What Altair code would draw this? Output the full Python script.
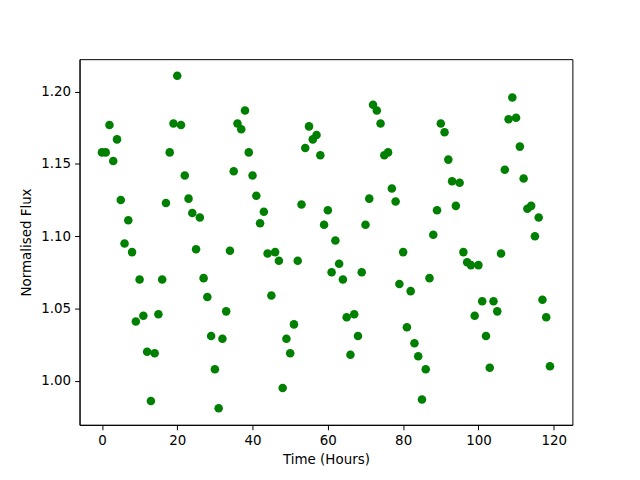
import altair as alt
import pandas as pd

hours = list(range(120))
flux = [
    1.158, 1.158, 1.177, 1.152, 1.167, 1.125, 1.095, 1.111, 1.089, 1.041,
    1.070, 1.045, 1.020, 0.986, 1.019, 1.046, 1.070, 1.123, 1.158, 1.178,
    1.211, 1.177, 1.142, 1.126, 1.116, 1.091, 1.113, 1.071, 1.058, 1.031,
    1.008, 0.981, 1.029, 1.048, 1.090, 1.145, 1.178, 1.174, 1.187, 1.158,
    1.142, 1.128, 1.109, 1.117, 1.088, 1.059, 1.089, 1.083, 0.995, 1.029,
    1.019, 1.039, 1.083, 1.122, 1.161, 1.176, 1.167, 1.170, 1.156, 1.108,
    1.118, 1.075, 1.097, 1.081, 1.070, 1.044, 1.018, 1.046, 1.031, 1.075,
    1.108, 1.126, 1.191, 1.187, 1.178, 1.156, 1.158, 1.133, 1.124, 1.067,
    1.089, 1.037, 1.062, 1.026, 1.017, 0.987, 1.008, 1.071, 1.101, 1.118,
    1.178, 1.172, 1.153, 1.138, 1.121, 1.137, 1.089, 1.082, 1.080, 1.045,
    1.080, 1.055, 1.031, 1.009, 1.055, 1.048, 1.088, 1.146, 1.181, 1.196,
    1.182, 1.162, 1.140, 1.119, 1.121, 1.100, 1.113, 1.056, 1.044, 1.010,
]
x_ticks = [0, 20, 40, 60, 80, 100, 120]
y_ticks = [1.00, 1.05, 1.10, 1.15, 1.20]

df = pd.DataFrame({"hour": hours, "flux": flux})

font = "DejaVu Sans"
chart = alt.Chart(df).mark_circle(size=74, color="#008000", opacity=1).encode(
    x=alt.X("hour:Q", title="Time (Hours)",
            scale=alt.Scale(domain=[-5.95, 124.95], nice=False, zero=False),
            axis=alt.Axis(values=x_ticks, format="d", grid=False, titlePadding=5)),
    y=alt.Y("flux:Q", title="Normalised Flux",
            scale=alt.Scale(domain=[0.9695, 1.2225], nice=False, zero=False),
            axis=alt.Axis(values=y_ticks, format=".2f", grid=False, titlePadding=7)),
).properties(
    width=496, height=368,
    autosize=alt.AutoSizeParams(type="none"),
    padding={"left": 72, "top": 50, "right": 60, "bottom": 50},
).configure_view(
    stroke="black", strokeWidth=1
).configure_axis(
    domainColor="black", tickColor="black", labelColor="black", titleColor="black",
    labelFont=font, titleFont=font, labelFontSize=13.5, titleFontSize=13.5,
    titleFontWeight="normal", tickSize=5, labelPadding=4, domainWidth=1, tickWidth=1,
    labelFlush=False,
)

chart.save("out.html", embed_options={"renderer": "svg", "actions": False})
